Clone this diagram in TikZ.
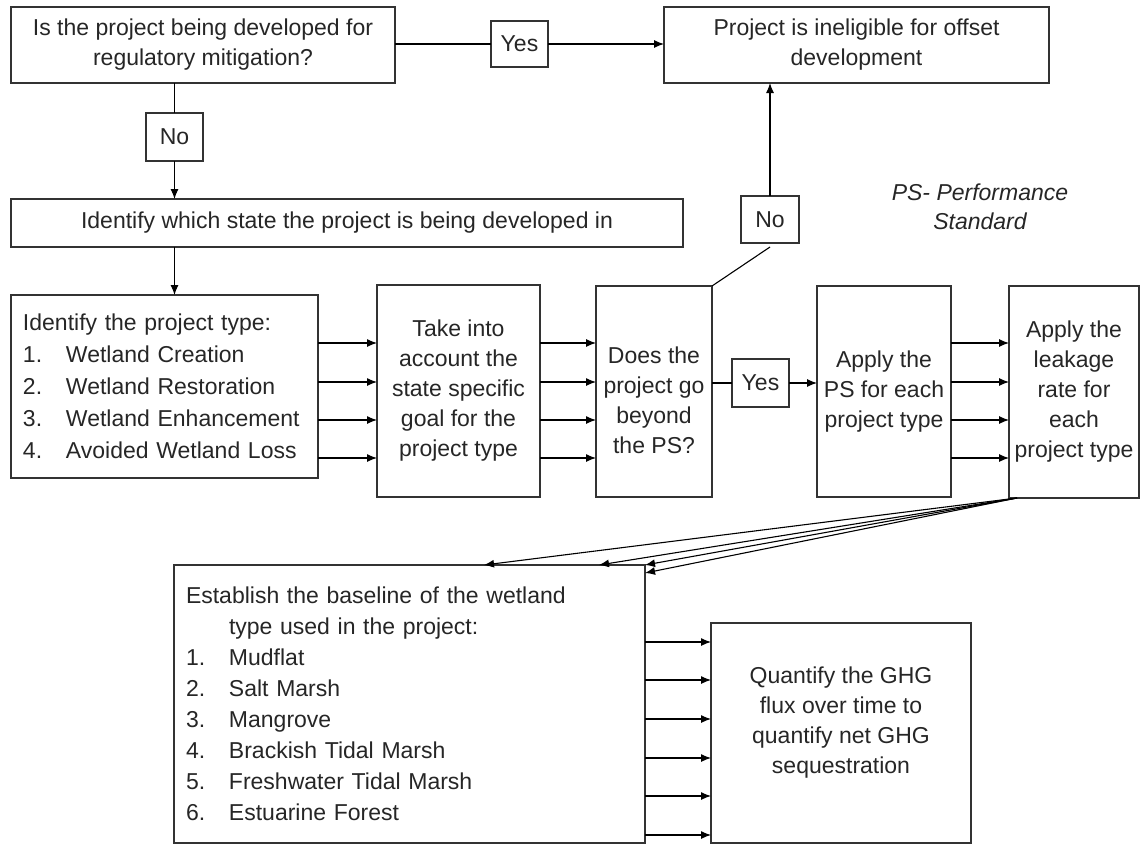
\documentclass[tikz,border=0pt]{standalone}
\usepackage{fontspec}
\setmainfont{Liberation Sans}
\usetikzlibrary{arrows.meta,calc}
\begin{document}
\begin{tikzpicture}[x=1pt,y=-1pt,
  box/.style={draw=black!80, line width=1.1pt, rectangle, inner sep=0pt, outer sep=0pt,
    align=center, text=black!85, font=\fontsize{23}{30}\selectfont},
  listbox/.style={box, align=left, inner xsep=12pt},
  arr/.style={draw=black, line width=1.1pt, -{Latex[length=10pt,width=8pt]}},
  ln/.style={draw=black, line width=1.1pt},
  note/.style={align=center, text=black!85, font=\fontsize{23}{29}\selectfont\itshape},
]
\useasboundingbox (0,0) rectangle (1140,844);

% boxes
\node[box, minimum width=384, minimum height=76] (A) at (203,45)
  {Is the project being developed for\\regulatory mitigation?};
\node[box, minimum width=57, minimum height=46] (yes1) at (519.5,44) {Yes};
\node[box, minimum width=385, minimum height=76] (B) at (856.5,45)
  {Project is ineligible for offset\\development};
\node[box, minimum width=57, minimum height=48] (no1) at (174.5,137) {No};
\node[box, minimum width=672, minimum height=48] (ident) at (347,223)
  {Identify which state the project is being developed in};
\node[listbox, minimum width=307, minimum height=183, text width=283,
  font=\fontsize{23}{32}\selectfont] (pt) at (164.5,386.5)
  {Identify the project type:\\
   \makebox[43pt][l]{1.}Wetland Creation\\
   \makebox[43pt][l]{2.}Wetland Restoration\\
   \makebox[43pt][l]{3.}Wetland Enhancement\\
   \makebox[43pt][l]{4.}Avoided Wetland Loss};
\node[box, minimum width=163, minimum height=212] (take) at (458.5,391)
  {Take into\\account the\\state specific\\goal for the\\project type};
\node[box, minimum width=116, minimum height=211] (does) at (654,391.5)
  {\phantom{x}\\[-8pt]Does the\\project go\\beyond\\the PS?};
\node[box, minimum width=57, minimum height=48] (yes2) at (760.5,383) {Yes};
\node[box, minimum width=134, minimum height=211] (ps) at (884,391.5)
  {Apply the\\PS for each\\project type};
\node[box, minimum width=130, minimum height=212] (leak) at (1074,392)
  {Apply the\\leakage\\rate for\\each\\project type};
\node[box, minimum width=58, minimum height=47] (no2) at (770,219.5) {No};
\node[note] (psnote) at (980,207) {PS- Performance\\Standard};
\node[listbox, minimum width=471, minimum height=278, text width=447,
  font=\fontsize{23}{31}\selectfont] (base) at (409.5,704)
  {Establish the baseline of the wetland\\
   \hspace*{43pt}type used in the project:\\
   \makebox[43pt][l]{1.}Mudflat\\
   \makebox[43pt][l]{2.}Salt Marsh\\
   \makebox[43pt][l]{3.}Mangrove\\
   \makebox[43pt][l]{4.}Brackish Tidal Marsh\\
   \makebox[43pt][l]{5.}Freshwater Tidal Marsh\\
   \makebox[43pt][l]{6.}Estuarine Forest};
\node[box, minimum width=260, minimum height=220] (quant) at (841,733)
  {Quantify the GHG\\flux over time to\\quantify net GHG\\sequestration\\[-4pt]\phantom{x}};

% row coordinates
\coordinate (r1) at (0,343);
\coordinate (r2) at (0,382);
\coordinate (r3) at (0,420);
\coordinate (r4) at (0,458);
\coordinate (q1) at (0,642);
\coordinate (q2) at (0,680);
\coordinate (q3) at (0,719);
\coordinate (q4) at (0,758);
\coordinate (q5) at (0,796);
\coordinate (q6) at (0,835);

% top connectors
\draw[ln] (A.east |- yes1) -- (yes1.west);
\draw[arr] (yes1.east) -- (B.west |- yes1);
\draw[ln] (A.south -| no1) -- (no1.north);
\draw[arr] (no1.south) -- (ident.north -| no1);
\draw[arr] (ident.south -| no1) -- (pt.north -| no1);

% parallel arrows
\foreach \r in {r1,r2,r3,r4} {
  \draw[arr] (pt.east |- \r) -- (take.west |- \r);
  \draw[arr] (take.east |- \r) -- (does.west |- \r);
  \draw[arr] (ps.east |- \r) -- (leak.west |- \r);
}
\foreach \q in {q1,q2,q3,q4,q5,q6} {
  \draw[arr] (base.east |- \q) -- (quant.west |- \q);
}

% yes / no from decision
\draw[ln] (does.east |- yes2) -- (yes2.west);
\draw[arr] (yes2.east) -- (ps.west |- yes2);
\draw[ln] (does.north east) -- ([yshift=-4pt]no2.south);
\draw[arr] (no2.north) -- (no2.north |- B.south);

% leakage to baseline
\coordinate (ls) at ([xshift=8pt]leak.south west);
\draw[arr] (ls) -- ([xshift=310pt]base.north west);
\draw[arr] (ls) -- ([xshift=425pt]base.north west);
\draw[arr] (ls) -- (base.north east);
\draw[arr] (ls) -- ([yshift=-8pt]base.north east);
\end{tikzpicture}
\end{document}
